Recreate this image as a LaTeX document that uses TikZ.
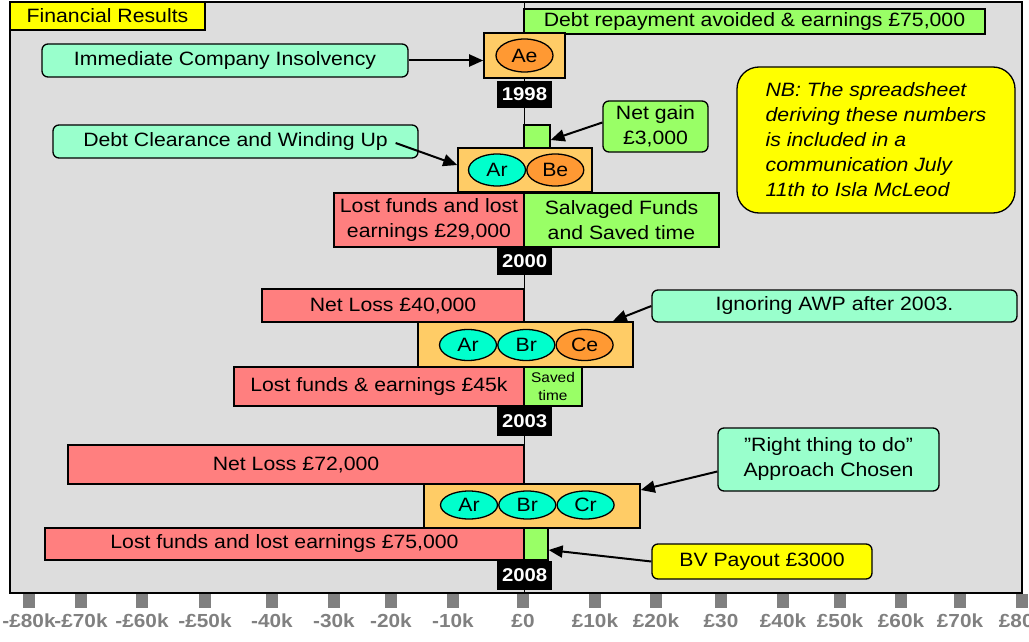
\documentclass[tikz,border=0pt]{standalone}
\usepackage{fontspec}
\setmainfont{Liberation Sans}[FakeStretch=1.1]
\usepackage{xcolor}
\usepackage{tikz}
\usetikzlibrary{arrows.meta, positioning, shapes.geometric}

\definecolor{panelgrey}{HTML}{DDDDDD}
\definecolor{noteyellow}{HTML}{FFFF00}
\definecolor{mint}{HTML}{99FFCC}
\definecolor{gaingreen}{HTML}{99FF66}
\definecolor{lossred}{HTML}{FF7F7F}
\definecolor{choiceorange}{HTML}{FFCC66}
\definecolor{ellorange}{HTML}{FF9933}
\definecolor{ellcyan}{HTML}{00FFCC}
\definecolor{tickgrey}{HTML}{808080}

\begin{document}
\begin{tikzpicture}[x=1pt, y=-1pt,
    font=\fontsize{19.3}{25}\selectfont,
    bar/.style={draw, line width=1.3pt, inner sep=0pt, align=center},
    callout/.style={draw, line width=1.3pt, rounded corners=6pt, inner sep=0pt, align=center},
    choice/.style={draw, line width=1.6pt, fill=choiceorange, inner sep=0pt},
    outcome/.style={ellipse, draw, line width=1.3pt, inner sep=0pt, minimum width=57pt},
    year/.style={fill=black, text=white, font=\bfseries\fontsize{18.5}{20}\selectfont, inner sep=0pt, minimum width=55pt, minimum height=27pt},
    edge/.style={-{Triangle[length=14pt, width=12pt]}, line width=2pt}
]
    \useasboundingbox (0,0) rectangle (1029,642);

    % panel and zero line
    \fill[panelgrey] (10,2) rectangle (1022,593);
    \draw[line width=1.3pt] (10,2) rectangle (1022,593);
    \draw[line width=1pt] (524,2) -- (524,593);

    \node[bar, fill=noteyellow, minimum width=195pt, minimum height=28pt] (title) at (107.5,16) {Financial Results};

    % 1998
    \node[bar, fill=gaingreen, minimum width=461pt, minimum height=25pt] (avoid98) at (754.5,21.5) {Debt repayment avoided \& earnings £75,000};
    \node[choice, minimum width=81pt, minimum height=45pt] (box98) at (524.5,55.5) {};
    \node[outcome, fill=ellorange, minimum height=33pt] (ae98) at (box98) {Ae};
    \node[year, below=2pt of box98] (yr98) {1998};
    \node[callout, fill=mint, minimum width=366pt, minimum height=33pt] (insolv) at (225,60.5) {Immediate Company Insolvency};
    \draw[edge] (insolv.east) -- (insolv.east -| box98.west);

    \node[draw, line width=1.3pt, fill=noteyellow, rounded corners=22pt, minimum width=278pt, minimum height=146pt, align=left, font=\itshape\fontsize{19.3}{25}\selectfont] (nb) at (876,140) {NB: The spreadsheet\\deriving these numbers\\is included in a\\communication July\\11th to Isla McLeod};

    % 2000
    \node[bar, fill=gaingreen, minimum width=26pt, minimum height=23pt] (gain00bar) at (537,136.5) {};
    \node[callout, fill=gaingreen, minimum width=105pt, minimum height=51pt] (gain00) at (655.5,126.5) {Net gain\\£3,000};
    \node[callout, fill=mint, minimum width=365pt, minimum height=33pt] (clear) at (235.5,141.5) {Debt Clearance and Winding Up};
    \node[choice, minimum width=134pt, minimum height=44pt] (box00) at (525,170) {};
    \node[outcome, fill=ellcyan, minimum height=32pt] (ar00) at (497,170) {Ar};
    \node[outcome, fill=ellorange, minimum height=32pt, right=0pt of ar00] (be00) {Be};
    \node[bar, fill=lossred, minimum width=190pt, minimum height=54pt] (lost00) at (429,220) {Lost funds and lost\\earnings £29,000};
    \node[bar, fill=gaingreen, minimum width=195pt, minimum height=54pt] (salv00) at (621.5,220) {Salvaged Funds\\and Saved time};
    \node[year, below=0pt of lost00.south east] (yr00) {2000};
    \draw[edge] ([yshift=4pt]gain00.west) -- ([yshift=-3.5pt]gain00bar.east);
    \draw[edge] ([xshift=-23pt, yshift=-1.5pt]clear.east) -- ([yshift=5pt]box00.west);

    % 2003
    \node[bar, fill=lossred, minimum width=262pt, minimum height=33pt] (loss03) at (393,305.5) {Net Loss £40,000};
    \node[callout, fill=mint, minimum width=365pt, minimum height=32pt] (awp) at (834.5,306) {Ignoring AWP after 2003.};
    \node[choice, minimum width=215pt, minimum height=45pt] (box03) at (525.5,344.5) {};
    \node[outcome, fill=ellcyan, minimum height=31pt] (ar03) at (468,345) {Ar};
    \node[outcome, fill=ellcyan, minimum height=31pt, right=0pt of ar03] (br03) {Br};
    \node[outcome, fill=ellorange, minimum height=31pt, right=0pt of br03] (ce03) {Ce};
    \node[bar, fill=lossred, minimum width=290pt, minimum height=39pt] (lost03) at (379,386.5) {Lost funds \& earnings £45k};
    \node[bar, fill=gaingreen, minimum width=58pt, minimum height=39pt, font=\fontsize{14}{18}\selectfont] (saved03) at (553,386.5) {Saved\\time};
    \node[year, minimum height=29pt, below=0pt of lost03.south east] (yr03) {2003};
    \draw[edge] (awp.west) -- ([xshift=-21pt]box03.north east);

    % 2008
    \node[bar, fill=lossred, minimum width=456pt, minimum height=39pt] (loss08) at (296,464.5) {Net Loss £72,000};
    \node[callout, fill=mint, minimum width=221pt, minimum height=63pt] (right08) at (828.5,459.5) {”Right thing to do”\\Approach Chosen};
    \node[choice, minimum width=216pt, minimum height=44pt] (box08) at (532,506) {};
    \node[outcome, fill=ellcyan, minimum height=28pt] (ar08) at (469,505) {Ar};
    \node[outcome, fill=ellcyan, minimum height=28pt, right=0pt of ar08] (br08) {Br};
    \node[outcome, fill=ellcyan, minimum height=28pt, right=0pt of br08] (cr08) {Cr};
    \node[bar, fill=lossred, minimum width=479pt, minimum height=32pt] (lost08) at (284.5,544) {Lost funds and lost earnings £75,000};
    \node[bar, fill=gaingreen, minimum width=24pt, minimum height=32pt] (gain08) at (536,544) {};
    \node[year, minimum height=29pt, below=0pt of lost08.south east] (yr08) {2008};
    \node[callout, fill=noteyellow, minimum width=220pt, minimum height=35pt] (bv) at (762,561.5) {BV Payout £3000};
    \draw[edge] ([yshift=-12pt]right08.west) -- ([yshift=16pt]box08.east);
    \draw[edge] (bv.west) -- ([yshift=-6pt]gain08.east);

    % axis ticks
    \foreach \tx/\tlab [count=\i] in {29/-£80k, 81/-£70k, 142/-£60k, 205/-£50k, 272/-40k, 334/-30k, 391/-20k, 453/-10k, 523/£0, 595/£10k, 656/£20k, 721/£30, 783/£40k, 840/£50k, 901/£60k, 960/£70k, 1022/£80k} {
        \fill[tickgrey] (\tx-6,594) rectangle (\tx+6,608);
        \node[font=\bfseries\fontsize{18.9}{20}\selectfont, text=tickgrey, anchor=base, inner sep=0pt] (tick\i) at (\tx,627) {\tlab};
    }
\end{tikzpicture}
\end{document}
